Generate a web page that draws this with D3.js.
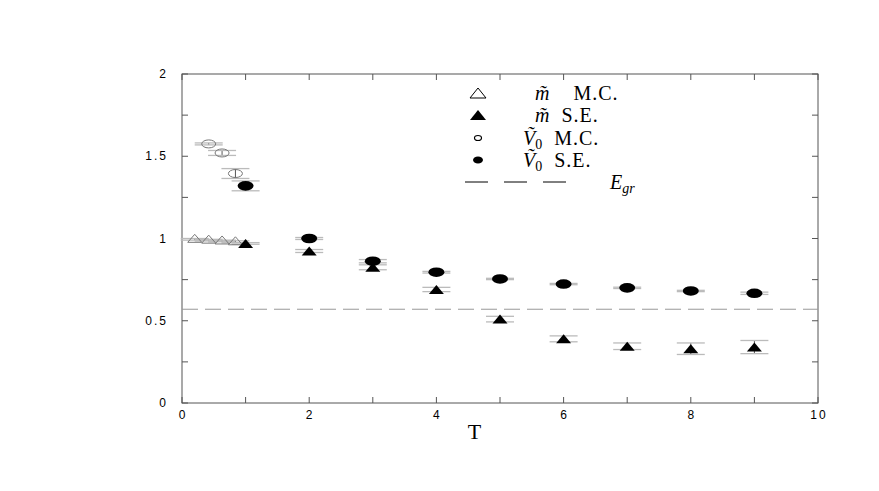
<!DOCTYPE html>
<html>
<head>
<meta charset="utf-8">
<script src="https://cdn.jsdelivr.net/npm/d3@7"></script>
<style>
  body { margin: 0; background: #fff; }
  .tick-label { font-family: "Liberation Sans", Arial, sans-serif; font-size: 12px; letter-spacing: 2px; fill: #000; }
  .serif { font-family: "Liberation Serif", "DejaVu Serif", serif; fill: #000; }
</style>
</head>
<body>
<script>
// m~ Monte Carlo (open triangles)
var mMcT = [0.2, 0.42, 0.63, 0.84];
var mMcY = [0.995, 0.99, 0.985, 0.98];
var mMcErr = [0.005, 0.005, 0.005, 0.006];

// m~ S.E. (filled triangles)
var mSeT = [1, 2, 3, 4, 5, 6, 7, 8, 9];
var mSeY = [0.97, 0.924, 0.825, 0.69, 0.51, 0.39, 0.345, 0.33, 0.34];
var mSeErr = [0.005, 0.009, 0.015, 0.013, 0.017, 0.018, 0.02, 0.035, 0.04];

// V0~ Monte Carlo (open circles)
var vMcT = [0.42, 0.63, 0.84];
var vMcY = [1.575, 1.52, 1.395];
var vMcErr = [0.006, 0.015, 0.03];

// V0~ S.E. (filled circles)
var vSeT = [1, 2, 3, 4, 5, 6, 7, 8, 9];
var vSeY = [1.32, 1.0, 0.862, 0.795, 0.754, 0.723, 0.7, 0.681, 0.667];
var vSeErr = [0.03, 0.006, 0.01, 0.005, 0.004, 0.004, 0.004, 0.004, 0.007];

var eGr = 0.57;

var xTicks = [0, 2, 4, 6, 8, 10];
var yTicks = [0, 0.5, 1, 1.5, 2];

var margin = { top: 74, right: 61, bottom: 88, left: 182 };
var width = 879 - margin.left - margin.right;
var height = 491 - margin.top - margin.bottom;

var svg = d3.select("body").append("svg")
    .attr("width", 879)
    .attr("height", 491)
  .append("g")
    .attr("transform", "translate(" + margin.left + "," + margin.top + ")");

var x = d3.scaleLinear().domain([0, 10]).range([0, width]);
var y = d3.scaleLinear().domain([0, 2]).range([height, 0]);

var axisColor = "#555";

// frame
svg.append("rect")
    .attr("width", width)
    .attr("height", height)
    .attr("fill", "none")
    .attr("stroke", axisColor)
    .attr("stroke-width", 1);

// ticks (inward, on all four sides)
var xMinor = d3.range(0, 10.001, 1);
var yMinor = d3.range(0, 2.001, 0.25);
var tick = 6;

svg.selectAll(".xt").data(xMinor).enter().append("line")
    .attr("x1", d => x(d)).attr("x2", d => x(d))
    .attr("y1", height).attr("y2", height - tick)
    .attr("stroke", axisColor);
svg.selectAll(".xtt").data(xMinor).enter().append("line")
    .attr("x1", d => x(d)).attr("x2", d => x(d))
    .attr("y1", 0).attr("y2", tick)
    .attr("stroke", axisColor);
svg.selectAll(".yt").data(yMinor).enter().append("line")
    .attr("x1", 0).attr("x2", tick)
    .attr("y1", d => y(d)).attr("y2", d => y(d))
    .attr("stroke", axisColor);
svg.selectAll(".ytr").data(yMinor).enter().append("line")
    .attr("x1", width).attr("x2", width - tick)
    .attr("y1", d => y(d)).attr("y2", d => y(d))
    .attr("stroke", axisColor);

svg.selectAll(".xl").data(xTicks).enter().append("text")
    .attr("class", "tick-label")
    .attr("x", d => x(d) + 1)
    .attr("y", height + 16)
    .attr("text-anchor", "middle")
    .text(d => d);

svg.selectAll(".yl").data(yTicks).enter().append("text")
    .attr("class", "tick-label")
    .attr("x", -14)
    .attr("y", d => y(d) + 4)
    .attr("text-anchor", "end")
    .text(d => d);

svg.append("text")
    .attr("class", "serif")
    .attr("x", x(4.6))
    .attr("y", height + 36)
    .attr("text-anchor", "middle")
    .style("font-size", "22px")
    .text("T");

// E_gr dashed line
svg.append("line")
    .attr("x1", 0).attr("x2", width)
    .attr("y1", y(eGr)).attr("y2", y(eGr))
    .attr("stroke", "#999")
    .attr("stroke-width", 1)
    .attr("stroke-dasharray", "16,7");

function zip(t, v, e) {
  return t.map(function(d, i) { return { t: d, v: v[i], e: e[i] }; });
}

function errorBars(data, cls) {
  var g = svg.append("g").attr("class", cls);
  var cap = 14;
  data.forEach(function(d) {
    g.append("line")
        .attr("x1", x(d.t)).attr("x2", x(d.t))
        .attr("y1", y(d.v - d.e)).attr("y2", y(d.v + d.e))
        .attr("stroke", "#555").attr("stroke-width", 1);
    [d.v - d.e, d.v + d.e].forEach(function(v) {
      g.append("line")
          .attr("x1", x(d.t) - cap).attr("x2", x(d.t) + cap)
          .attr("y1", y(v)).attr("y2", y(v))
          .attr("stroke", "#bbb").attr("stroke-width", 1.3);
    });
  });
}

function triPath(cx, cy, w, h) {
  return "M" + (cx - w / 2) + "," + (cy + h / 2) +
         "L" + (cx + w / 2) + "," + (cy + h / 2) +
         "L" + cx + "," + (cy - h / 2) + "Z";
}

var mMc = zip(mMcT, mMcY, mMcErr);
var mSe = zip(mSeT, mSeY, mSeErr);
var vMc = zip(vMcT, vMcY, vMcErr);
var vSe = zip(vSeT, vSeY, vSeErr);

errorBars(vMc, "err-vmc");
errorBars(mMc, "err-mmc");
errorBars(vSe, "err-vse");
errorBars(mSe, "err-mse");

svg.selectAll(".vmc").data(vMc).enter().append("ellipse")
    .attr("cx", d => x(d.t)).attr("cy", d => y(d.v))
    .attr("rx", 7).attr("ry", 4)
    .attr("fill", "none").attr("stroke", "#777").attr("stroke-width", 1);

svg.selectAll(".mmc").data(mMc).enter().append("path")
    .attr("d", d => triPath(x(d.t), y(d.v) - 1, 14, 8))
    .attr("fill", "none").attr("stroke", "#777").attr("stroke-width", 1);

svg.selectAll(".vse").data(vSe).enter().append("ellipse")
    .attr("cx", d => x(d.t)).attr("cy", d => y(d.v))
    .attr("rx", 8).attr("ry", 4.8)
    .attr("fill", "#000");

svg.selectAll(".mse").data(mSe).enter().append("path")
    .attr("d", d => triPath(x(d.t), y(d.v), 15, 9))
    .attr("fill", "#000");

// legend
var leg = svg.append("g");
var lx = 478 - margin.left;
var rows = [19, 41, 64, 86, 108];

leg.append("path").attr("d", triPath(lx, rows[0], 16, 10))
    .attr("fill", "none").attr("stroke", "#000").attr("stroke-width", 1);
leg.append("path").attr("d", triPath(lx, rows[1], 16, 10)).attr("fill", "#000");
leg.append("ellipse").attr("cx", lx).attr("cy", rows[2]).attr("rx", 3.5).attr("ry", 2.5)
    .attr("fill", "none").attr("stroke", "#000").attr("stroke-width", 1.2);
leg.append("ellipse").attr("cx", lx).attr("cy", rows[3]).attr("rx", 5).attr("ry", 3.5).attr("fill", "#000");
leg.append("line")
    .attr("x1", 465 - margin.left).attr("x2", 567 - margin.left)
    .attr("y1", rows[4]).attr("y2", rows[4])
    .attr("stroke", "#000").attr("stroke-width", 1)
    .attr("stroke-dasharray", "23,16");

function legText(xp, yp, parts) {
  var t = leg.append("text").attr("class", "serif")
      .attr("x", xp).attr("y", yp + 7).style("font-size", "20px");
  parts.forEach(function(p) {
    var s = t.append("tspan").text(p.s);
    if (p.it) s.style("font-style", "italic");
    if (p.sub) s.attr("baseline-shift", "-30%").style("font-size", "14px");
    if (p.dx) s.attr("dx", p.dx);
    if (p.ls) s.style("letter-spacing", p.ls + "px");
  });
}

legText(535 - margin.left, rows[0], [{ s: "m\u0303", it: true }, { s: "M.C.", dx: 24, ls: 1 }]);
legText(535 - margin.left, rows[1], [{ s: "m\u0303", it: true }, { s: "S.E.", dx: 12, ls: 1 }]);
legText(523 - margin.left, rows[2], [{ s: "\u1E7C", it: true }, { s: "0", sub: true }, { s: "M.C.", dx: 12, ls: 1 }]);
legText(523 - margin.left, rows[3], [{ s: "\u1E7C", it: true }, { s: "0", sub: true }, { s: "S.E.", dx: 12, ls: 1 }]);
legText(610 - margin.left, rows[4], [{ s: "E", it: true }, { s: "gr", it: true, sub: true }]);
</script>
</body>
</html>
